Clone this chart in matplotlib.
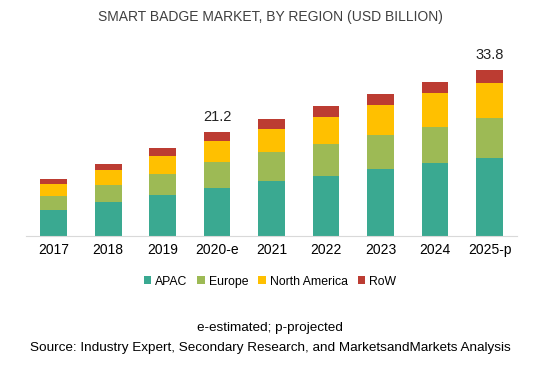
import numpy as np
import matplotlib
matplotlib.use("Agg")
import matplotlib.pyplot as plt

years = ["2017", "2018", "2019", "2020-e", "2021", "2022", "2023", "2024", "2025-p"]
apac = [5.36, 6.86, 8.29, 9.84, 11.14, 12.28, 13.65, 14.81, 15.90]
europe = [2.79, 3.46, 4.40, 5.20, 5.91, 6.52, 6.99, 7.45, 8.10]
north_america = [2.50, 3.12, 3.54, 4.30, 4.81, 5.50, 6.05, 6.86, 7.15]
row = [0.96, 1.28, 1.63, 1.86, 1.98, 2.24, 2.24, 2.24, 2.65]
labels = {3: "21.2", 8: "33.8"}

colors = ["#3AA991", "#9DBA55", "#FFC000", "#BC3C32"]
names = ["APAC", "Europe", "North America", "RoW"]

plt.rcParams['font.family'] = ['Liberation Sans', 'DejaVu Sans']

fig = plt.figure(figsize=(5.4, 3.78), dpi=100)
ax = fig.add_axes([0.049, 0.3757, 0.908, 0.4677])

x = np.arange(len(years))
bottom = np.zeros(len(years))
for vals, c, n in zip([apac, europe, north_america, row], colors, names):
    ax.bar(x, vals, 0.49, bottom=bottom, color=c, label=n)
    bottom += np.array(vals)

for i, t in labels.items():
    ax.text(x[i], bottom[i] + 1.6, t, ha="center", va="bottom", fontsize=10.5, color="#222222")

ax.set_xlim(-0.5, 8.5)
ax.set_ylim(0, 36)
ax.set_xticks(x)
ax.set_xticklabels(years, fontsize=10)
ax.tick_params(axis="x", length=0, pad=5)
ax.set_yticks([])
for s in ["top", "right", "left"]:
    ax.spines[s].set_visible(False)
ax.spines["bottom"].set_color("#D9D9D9")

fig.text(0.5, 0.955, "SMART BADGE MARKET, BY REGION (USD BILLION)", ha="center", va="center",
         fontsize=10, color="#404040")

fig.legend(loc="center", bbox_to_anchor=(0.5, 0.255), ncol=4, frameon=False,
           handlelength=0.6, handleheight=0.6, handletextpad=0.35, columnspacing=0.8,
           prop={'size': 8.8})

fig.text(0.5, 0.132, "e-estimated; p-projected", ha="center", va="center", fontsize=9.7)
fig.text(0.5, 0.079, "Source: Industry Expert, Secondary Research, and MarketsandMarkets Analysis",
         ha="center", va="center", fontsize=9.7)

fig.savefig("out.png", dpi=100)
